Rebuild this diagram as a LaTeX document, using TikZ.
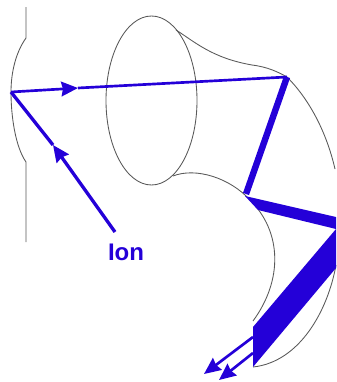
\documentclass[tikz,border=0pt]{standalone}
\usepackage{xcolor}
\usepackage{fontspec}
\setsansfont{Liberation Sans}
\usetikzlibrary{arrows.meta}
\definecolor{ionblue}{RGB}{36,0,216}
\begin{document}
\begin{tikzpicture}[x=0.75pt,y=-0.75pt,
      wall/.style={draw=black!65, line width=0.65pt},
      beam/.style={draw=ionblue, line width=#1},
      beam/.default=2pt,
      tipped/.style={-{Stealth[length=12.5pt,width=11pt,inset=1.2pt]}},
      lbl/.style={text=ionblue, font=\sffamily\bfseries\fontsize{18}{20}\selectfont, inner sep=0pt}]
    \useasboundingbox (0,0) rectangle (336,382);
    % points where the beam hits something
    \coordinate (entry) at (11,92);
    \coordinate (start) at (115,232);
    \coordinate (midion) at (53,145);
    \coordinate (midray) at (78,88);
    \coordinate (first) at (287,77);
    \coordinate (second) at (246,194);
    \coordinate (out1) at (253,337);
    \coordinate (out2) at (253,353);
    \coordinate (end1) at (204,374);
    \coordinate (end2) at (219,380);
    % outline
    \draw[wall] (26,7) -- (26,38) .. controls (16,52) and (11,72) .. (entry)
       .. controls (11,115) and (15,146) .. (26,162) -- (26,242);
    \draw[wall] (151.5,100.5) ellipse (45.5 and 84.5);
    \draw[wall] (176,30) .. controls (195,42) and (212,58) .. (252,65)
       .. controls (268,67) and (278,72) .. (first)
       .. controls (308,98) and (326,130) .. (335,169);
    \draw[wall] (173,176) .. controls (196,167) and (230,178) .. (250,200)
       .. controls (282,232) and (283,280) .. (253,321);
    \draw[wall] (336,265) .. controls (328,310) and (300,362) .. (253,367);
    % beam
    \draw[beam=2.5pt, tipped] (start) -- (midion);
    \draw[beam=2.5pt] (midion) -- (entry);
    \draw[beam, tipped] (entry) -- (midray);
    \draw[beam] (midray) -- (first);
    \draw[beam=4.8pt] (first) -- (second);
    \fill[ionblue] (245,196) -- (336,217) -- (336,229) -- (258,210) -- cycle;
    \fill[ionblue] (336,229) -- (253,327) -- (253,367) -- (336,268) -- cycle;
    \draw[beam, tipped] (out1) -- (end1);
    \draw[beam, tipped] (out2) -- (end2);
    \node[lbl] (ion) at (126,252.5) {Ion};
  \end{tikzpicture}
\end{document}
